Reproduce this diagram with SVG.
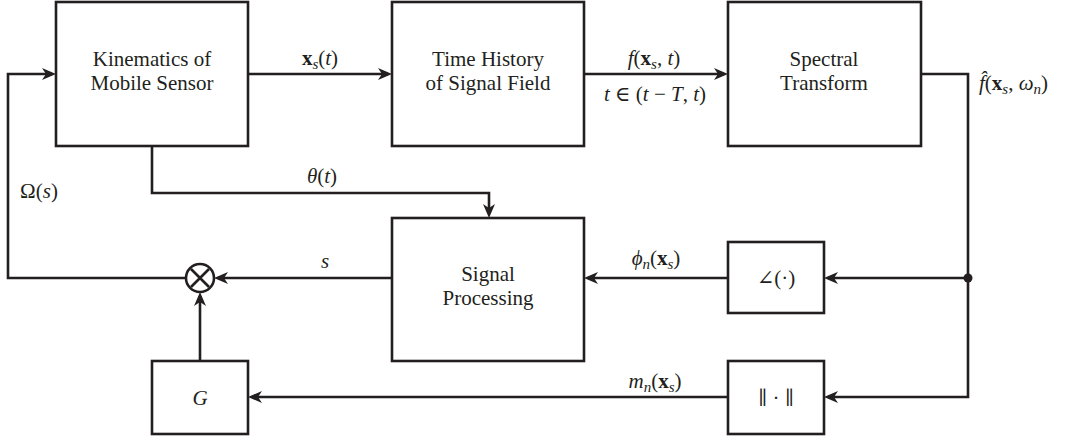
<svg xmlns="http://www.w3.org/2000/svg" width="1067" height="443" viewBox="0 0 1067 443">
<style>
.box{fill:#fff;stroke:#231f20;stroke-width:2.6}
.ln{fill:none;stroke:#231f20;stroke-width:2.6}
.t{font-family:'Liberation Serif','Times New Roman','DejaVu Serif',serif;font-size:21px;fill:#231f20;text-anchor:middle}
.m{font-family:'Liberation Serif','Times New Roman','DejaVu Serif',serif;font-size:21px;fill:#231f20;text-anchor:middle}
.ms{font-family:'Liberation Serif','Times New Roman','DejaVu Serif',serif;font-size:21px;fill:#231f20}
.i{font-style:italic}
.b{font-weight:bold}
.sub{font-size:15px;font-style:italic}
.dj{font-family:'DejaVu Serif',serif;font-size:19px}
</style>
<defs>
<marker id="ah" markerUnits="userSpaceOnUse" markerWidth="16" markerHeight="14" refX="10" refY="6" orient="auto">
<path d="M0,0 L14,6 L0,12 L4,6 z" fill="#231f20"/>
</marker>
</defs>
<rect width="1067" height="443" fill="#fff"/>
<g id="connectors">
<path class="ln" d="M186,278 H8 V74 H52" marker-end="url(#ah)"/>
<path class="ln" d="M248,74 H388" marker-end="url(#ah)"/>
<path class="ln" d="M584,74 H724" marker-end="url(#ah)"/>
<path class="ln" d="M921,74 H968 V397 H828" marker-end="url(#ah)"/>
<path class="ln" d="M968,278 H828" marker-end="url(#ah)"/>
<path class="ln" d="M728,278 H588" marker-end="url(#ah)"/>
<path class="ln" d="M392,278 H218" marker-end="url(#ah)"/>
<path class="ln" d="M152,146 V193 H489 V214" marker-end="url(#ah)"/>
<path class="ln" d="M728,397 H252" marker-end="url(#ah)"/>
<path class="ln" d="M200,361 V296" marker-end="url(#ah)"/>
<circle cx="968" cy="278" r="4.5" fill="#231f20"/>
<text class="m" x="39" y="198">Ω(<tspan class="i">s</tspan>)</text>
<text class="m" x="322" y="183"><tspan class="i">θ</tspan>(<tspan class="i">t</tspan>)</text>
<text class="m i" x="325" y="268">s</text>
<text class="m" x="320" y="65"><tspan class="b">x</tspan><tspan class="sub" dy="4">s</tspan><tspan dy="-4">(</tspan><tspan class="i">t</tspan>)</text>
<text class="m" x="654" y="65"><tspan class="i">f</tspan>(<tspan class="b">x</tspan><tspan class="sub" dy="4">s</tspan><tspan dy="-4">, </tspan><tspan class="i">t</tspan>)</text>
<text class="m" x="655" y="101"><tspan class="i">t</tspan> ∈ (<tspan class="i">t</tspan> − <tspan class="i">T</tspan>, <tspan class="i">t</tspan>)</text>
<text class="ms" x="979" y="90"><tspan class="i">f&#x302;</tspan>(<tspan class="b">x</tspan><tspan class="sub" dy="4">s</tspan><tspan dy="-4">, </tspan><tspan class="i">ω</tspan><tspan class="sub" dy="4">n</tspan><tspan dy="-4">)</tspan></text>
<text class="m" x="656" y="265"><tspan class="i">ϕ</tspan><tspan class="sub" dy="4">n</tspan><tspan dy="-4">(</tspan><tspan class="b">x</tspan><tspan class="sub" dy="4">s</tspan><tspan dy="-4">)</tspan></text>
<text class="m" x="655" y="388"><tspan class="i">m</tspan><tspan class="sub" dy="4">n</tspan><tspan dy="-4">(</tspan><tspan class="b">x</tspan><tspan class="sub" dy="4">s</tspan><tspan dy="-4">)</tspan></text>
</g>
<g id="kinematics">
<rect class="box" x="56" y="2" width="192" height="144"/>
<text class="t" x="152" y="66">Kinematics of</text>
<text class="t" x="152" y="90">Mobile Sensor</text>
</g>
<g id="timehistory">
<rect class="box" x="392" y="2" width="192" height="144"/>
<text class="t" x="488" y="66">Time History</text>
<text class="t" x="488" y="90">of Signal Field</text>
</g>
<g id="spectral">
<rect class="box" x="728" y="2" width="193" height="144"/>
<text class="t" x="824" y="66">Spectral</text>
<text class="t" x="824" y="90">Transform</text>
</g>
<g id="signalproc">
<rect class="box" x="392" y="218" width="192" height="143"/>
<text class="t" x="488" y="281">Signal</text>
<text class="t" x="488" y="305">Processing</text>
</g>
<g id="angle">
<rect class="box" x="728" y="242" width="96" height="71"/>
<text class="t" x="776" y="285">∠(·)</text>
</g>
<g id="norm">
<rect class="box" x="728" y="361" width="96" height="73"/>
<text class="t dj" x="776" y="404">∥ · ∥</text>
</g>
<g id="gain">
<rect class="box" x="152" y="361" width="96" height="73"/>
<text class="t i" x="200" y="405">G</text>
</g>
<g id="multiplier">
<circle cx="200" cy="278" r="14" fill="#fff" stroke="#231f20" stroke-width="2.6"/>
<path class="ln" d="M191,269 L209,287 M209,269 L191,287"/>
</g>
</svg>
